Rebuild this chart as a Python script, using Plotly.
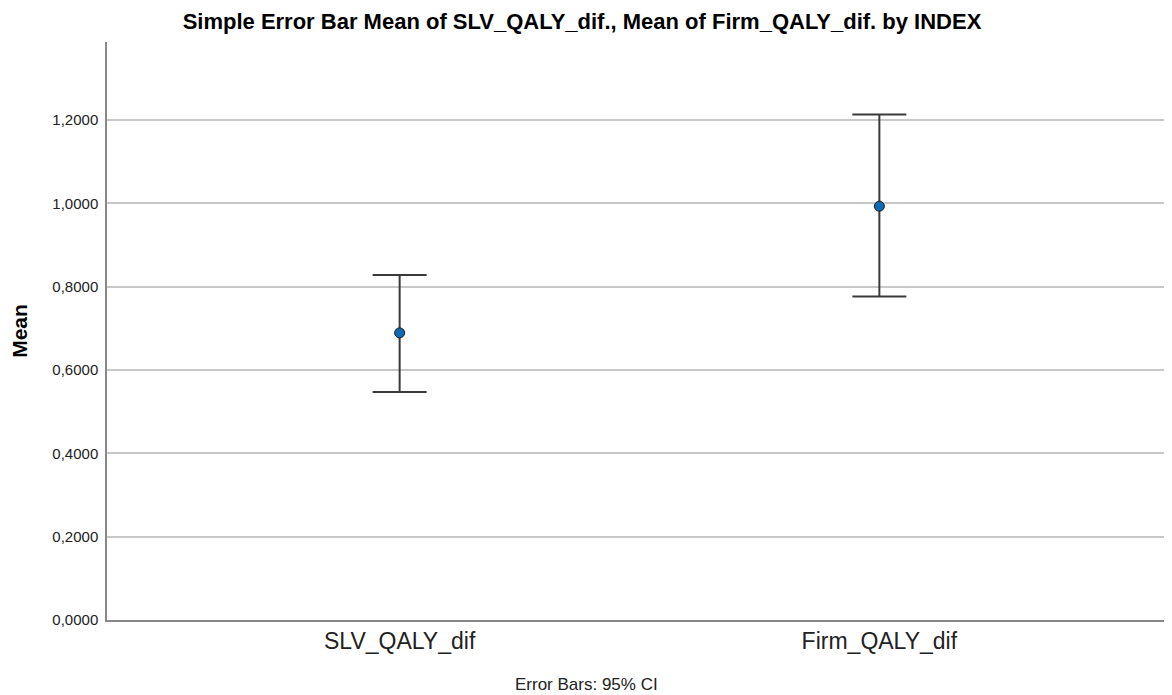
import plotly.graph_objects as go

categories = ["SLV_QALY_dif", "Firm_QALY_dif"]
means = [0.689, 0.993]
ci_upper = [0.828, 1.213]
ci_lower = [0.547, 0.776]
y_ticks = [0, 0.2, 0.4, 0.6, 0.8, 1.0, 1.2]
y_tick_labels = ["0,0000", "0,2000", "0,4000", "0,6000", "0,8000", "1,0000", "1,2000"]

x_pos = list(range(len(categories)))
err_plus = [u - m for u, m in zip(ci_upper, means)]
err_minus = [m - l for m, l in zip(means, ci_lower)]

# page body has an 8px margin -> figure is drawn offset by 8px
OFF = 8
W, H = 1172 - OFF, 695 - OFF
FONT = "Liberation Sans, Arial, sans-serif"

fig = go.Figure()
fig.add_trace(go.Scatter(
    x=x_pos, y=means, mode="markers",
    marker=dict(size=10, color="#0f6ab4", line=dict(color="#1a1a1a", width=1)),
    error_y=dict(type="data", symmetric=False, array=err_plus, arrayminus=err_minus,
                 color="#3a3a3a", thickness=2, width=27),
    showlegend=False,
))

left = 107 - OFF
plot_top, plot_bottom = 42 - OFF, 620 - OFF
pw = W - left
ph = plot_bottom - plot_top
fig.update_layout(
    width=W, height=H,
    paper_bgcolor="white", plot_bgcolor="white",
    margin=dict(l=left, r=0, t=plot_top, b=H - plot_bottom, pad=0),
    title=dict(text="<b>Simple Error Bar Mean of SLV_QALY_dif., Mean of Firm_QALY_dif. by INDEX</b>",
               x=(582 - OFF) / W, xref="container", xanchor="center",
               y=1 - (21 - OFF) / H, yref="container", yanchor="middle",
               font=dict(family=FONT, size=22, color="#000")),
    font=dict(family=FONT, color="#222"),
    annotations=[dict(text="Error Bars: 95% CI",
                      x=((586 - OFF) - left) / pw, xref="paper", xanchor="center",
                      y=-(684 - 620) / ph, yref="paper", yanchor="middle",
                      showarrow=False, font=dict(family=FONT, size=17, color="#222"))],
)

fig.update_xaxes(
    tickvals=x_pos, ticktext=categories, range=[-0.61, 1.61],
    showgrid=False, zeroline=False, showline=True, linecolor="#888888", linewidth=1.5,
    ticks="", tickfont=dict(size=23, color="#222"),
)
fig.update_yaxes(
    range=[0, 1.387], tickvals=y_ticks, ticktext=y_tick_labels,
    showgrid=True, gridcolor="#c8c8c8", gridwidth=1.5, zeroline=False,
    showline=True, linecolor="#888888", linewidth=1.5, ticks="",
    ticklabelstandoff=4,
    tickfont=dict(size=15, color="#222"),
    title=dict(text="<b>Mean</b>", font=dict(size=21, color="#000"), standoff=19),
)

fig.write_html("out.html")
